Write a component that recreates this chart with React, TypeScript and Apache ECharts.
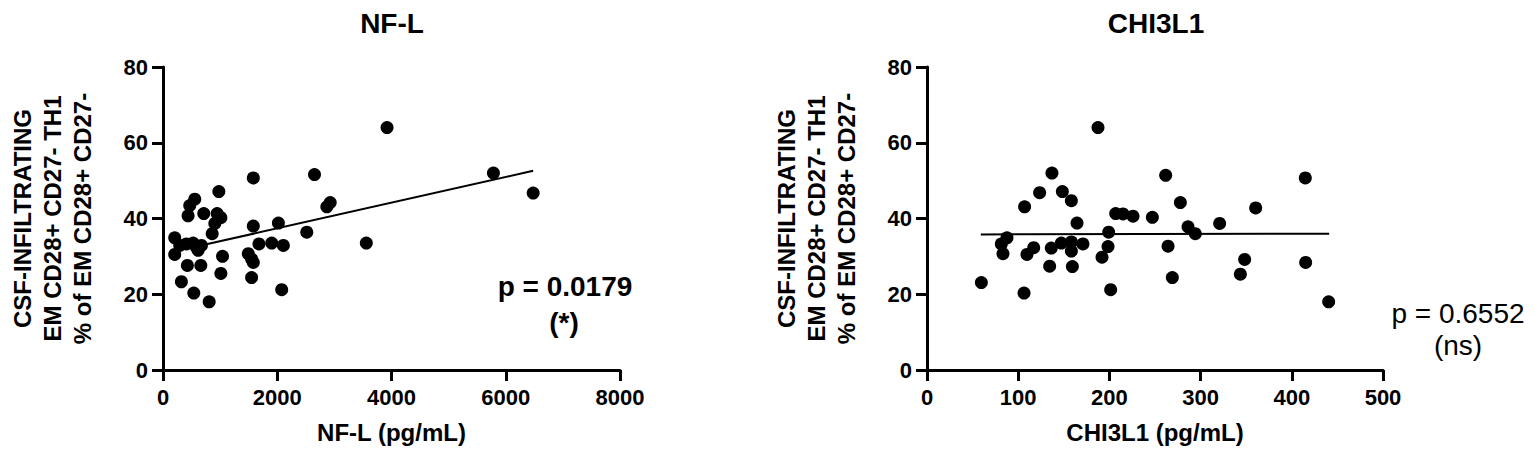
import React, { useEffect, useRef } from "react";
import * as echarts from "echarts";

// ---- data ----
const nflX = [3922, 1581, 2652, 5784, 6480, 978, 556, 468, 439, 714, 948, 1013, 907, 2868, 2927, 1581, 2020, 2517, 861, 205, 293, 410, 527, 585, 673, 615, 205, 1680, 1903, 2107, 3559, 1042, 1493, 1551, 1581, 427, 662, 1013, 1551, 322, 539, 808, 2078];
const nflY = [64.0, 50.7, 51.6, 52.0, 46.7, 47.1, 45.1, 43.4, 40.7, 41.3, 41.3, 40.2, 38.7, 43.1, 44.2, 38.0, 38.8, 36.4, 36.0, 34.9, 32.9, 33.3, 33.5, 32.4, 32.9, 31.6, 30.5, 33.3, 33.5, 32.9, 33.5, 30.0, 30.7, 29.3, 28.4, 27.6, 27.6, 25.5, 24.4, 23.3, 20.3, 18.0, 21.2];
const nflFitX = [760, 6480];
const nflFitY = [33.2, 52.6];

const chiX = [187.5, 137, 261.7, 414.8, 123.5, 148.4, 158.3, 107, 277.8, 360.4, 206.9, 214.9, 225.9, 247.1, 164.5, 320.9, 286.2, 294.2, 199.2, 87.7, 81.5, 117, 136.3, 147.3, 158.3, 171, 198.5, 264.3, 158.3, 83.3, 109.6, 191.9, 348.3, 415.2, 134.5, 159.4, 269, 343.6, 59.6, 106.4, 201.4, 440.4];
const chiY = [64.0, 52.0, 51.4, 50.7, 46.8, 47.1, 44.7, 43.1, 44.2, 42.8, 41.3, 41.2, 40.6, 40.3, 38.8, 38.7, 37.8, 36.0, 36.4, 34.9, 33.3, 32.3, 32.2, 33.5, 33.8, 33.3, 32.6, 32.7, 31.4, 30.7, 30.5, 29.8, 29.2, 28.4, 27.4, 27.3, 24.4, 25.3, 23.1, 20.3, 21.2, 18.0];
const chiFitX = [59, 441];
const chiFitY = [35.8, 36.0];

const panelTitles = ["NF-L", "CHI3L1"];
const xAxisNames = ["NF-L (pg/mL)", "CHI3L1 (pg/mL)"];
const xAxisMax = [8000, 500];
const xAxisStep = [2000, 100];
const yAxisMin = 0;
const yAxisMax = 80;
const yAxisStep = 20;
const yAxisName = "CSF-INFILTRATING\nEM CD28+ CD27- TH1\n% of EM CD28+ CD27-";
const pValues = ["p = 0.0179", "p = 0.6552"];
const significance = ["(*)", "(ns)"];

const FONT = "'Liberation Sans', Arial, Helvetica, sans-serif";
const INK = "#000";

const zip = (xs: number[], ys: number[]) => xs.map((x, i) => [x, ys[i]]);

export default function App() {
  const ref = useRef<HTMLDivElement>(null);

  useEffect(() => {
    if (!ref.current) return;
    const chart = echarts.init(ref.current, undefined, { renderer: "svg" });

    const grids = [
      { left: 163, top: 67, width: 457, height: 303 },
      { left: 927, top: 67, width: 456, height: 303 },
    ];

    const axisCommon = {
      axisLine: { show: true, onZero: false, lineStyle: { color: INK, width: 3 } },
      axisTick: { show: true, length: 11, lineStyle: { color: INK, width: 3 } },
      splitLine: { show: false },
    };

    const xAxes = [0, 1].map((i) => ({
      type: "value",
      gridIndex: i,
      min: 0,
      max: xAxisMax[i],
      interval: xAxisStep[i],
      ...axisCommon,
      axisLabel: {
        color: INK,
        fontSize: 22,
        fontWeight: "bold",
        fontFamily: FONT,
        margin: 16,
        formatter: (v: number) => String(v),
      },
      name: xAxisNames[i],
      nameLocation: "middle",
      nameGap: 50,
      nameTextStyle: { color: INK, fontSize: 24, fontWeight: "bold", fontFamily: FONT },
    }));

    const yAxes = [0, 1].map((i) => ({
      type: "value",
      gridIndex: i,
      min: yAxisMin,
      max: yAxisMax,
      interval: yAxisStep,
      ...axisCommon,
      axisLabel: {
        color: INK,
        fontSize: 22,
        fontWeight: "bold",
        fontFamily: FONT,
        margin: 15,
        formatter: (v: number) => String(v),
      },
      name: yAxisName,
      nameLocation: "middle",
      nameRotate: 90,
      nameGap: 66,
      nameTextStyle: { color: INK, fontSize: 24, fontWeight: "bold", fontFamily: FONT, lineHeight: 30, align: "center" },
    }));

    const scatter = (i: number, xs: number[], ys: number[]) => ({
      type: "scatter",
      xAxisIndex: i,
      yAxisIndex: i,
      data: zip(xs, ys),
      symbol: "circle",
      symbolSize: 13,
      itemStyle: { color: INK, opacity: 1 },
      z: 3,
    });
    const fit = (i: number, xs: number[], ys: number[]) => ({
      type: "line",
      xAxisIndex: i,
      yAxisIndex: i,
      data: zip(xs, ys),
      symbol: "none",
      lineStyle: { color: INK, width: 2 },
      z: 2,
    });

    const titleCenters = [392, 1156];
    const graphic: any[] = [];
    panelTitles.forEach((t, i) => {
      graphic.push({
        type: "text",
        x: titleCenters[i],
        y: 23,
        style: { text: t, fill: INK, font: `bold 28px ${FONT}`, textAlign: "center", textVerticalAlign: "middle" },
      });
    });
    graphic.push(
      { type: "text", x: 565, y: 286, style: { text: pValues[0], fill: INK, font: `bold 28px ${FONT}`, textAlign: "center", textVerticalAlign: "middle" } },
      { type: "text", x: 564, y: 322, style: { text: significance[0], fill: INK, font: `bold 28px ${FONT}`, textAlign: "center", textVerticalAlign: "middle" } },
      { type: "text", x: 1458, y: 313, style: { text: pValues[1], fill: INK, font: `28px ${FONT}`, textAlign: "center", textVerticalAlign: "middle" } },
      { type: "text", x: 1458, y: 345, style: { text: significance[1], fill: INK, font: `28px ${FONT}`, textAlign: "center", textVerticalAlign: "middle" } }
    );

    chart.setOption({
      animation: false,
      backgroundColor: "#fff",
      textStyle: { fontFamily: FONT },
      grid: grids,
      xAxis: xAxes,
      yAxis: yAxes,
      series: [
        scatter(0, nflX, nflY),
        fit(0, nflFitX, nflFitY),
        scatter(1, chiX, chiY),
        fit(1, chiFitX, chiFitY),
      ],
      graphic,
    });

    return () => chart.dispose();
  }, []);

  return (
    <div
      ref={ref}
      style={{ position: "absolute", left: 0, top: 0, width: 1535, height: 457, background: "#fff" }}
    />
  );
}
